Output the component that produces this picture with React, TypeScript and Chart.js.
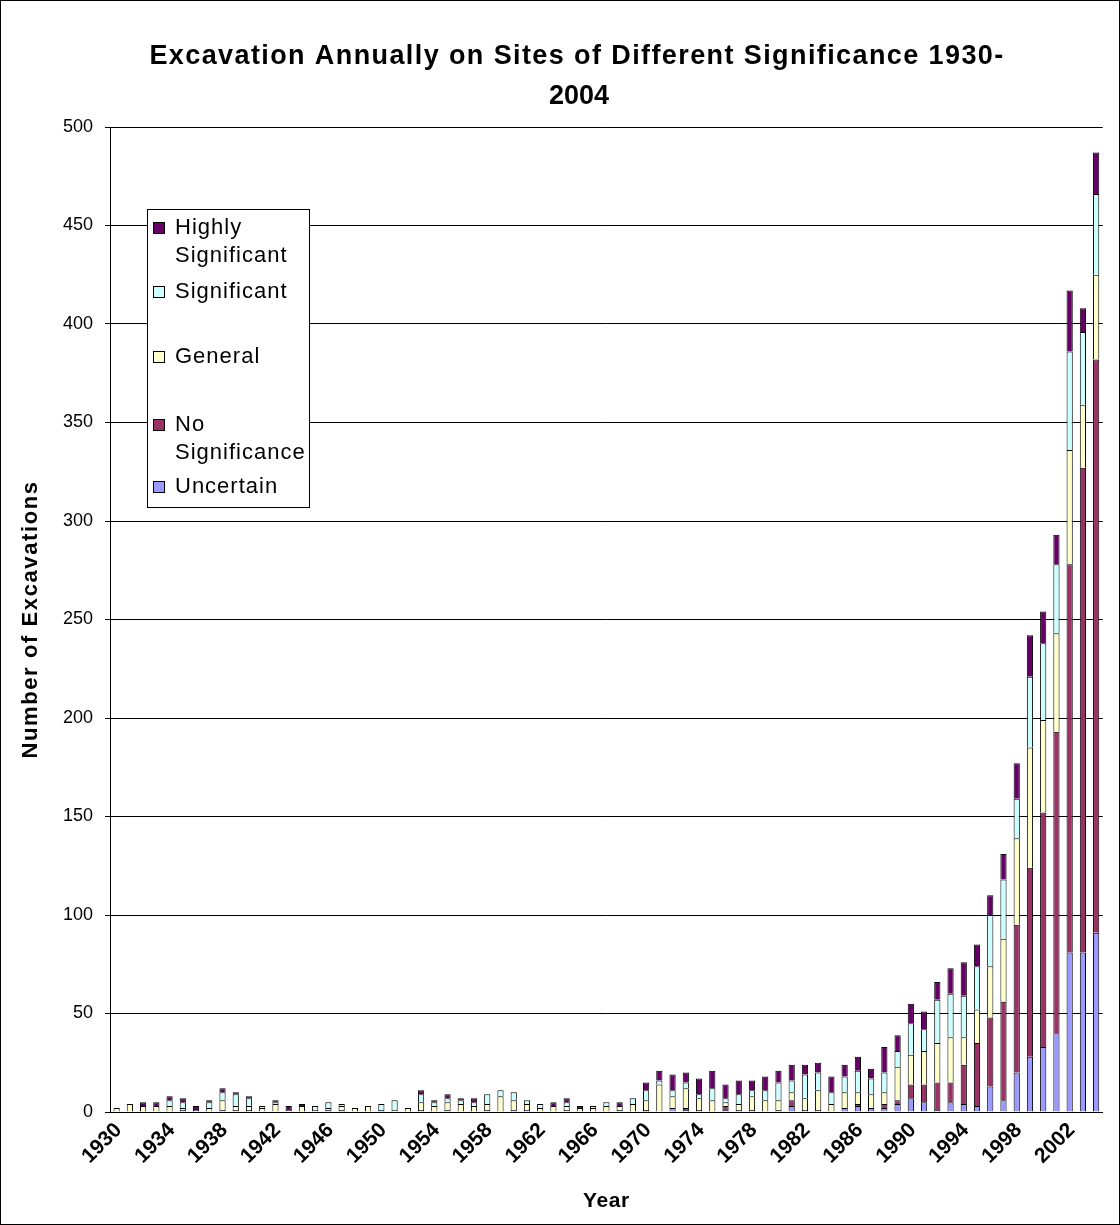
import React, { useEffect, useRef } from "react";
import { Chart, registerables } from "chart.js";

Chart.register(...registerables);

const years = [
  "1930","1931","1932","1933","1934","1935","1936","1937","1938","1939",
  "1940","1941","1942","1943","1944","1945","1946","1947","1948","1949",
  "1950","1951","1952","1953","1954","1955","1956","1957","1958","1959",
  "1960","1961","1962","1963","1964","1965","1966","1967","1968","1969",
  "1970","1971","1972","1973","1974","1975","1976","1977","1978","1979",
  "1980","1981","1982","1983","1984","1985","1986","1987","1988","1989",
  "1990","1991","1992","1993","1994","1995","1996","1997","1998","1999",
  "2000","2001","2002","2003","2004",
];

const shownYearLabels = [
  "1930","1934","1938","1942","1946","1950","1954","1958","1962",
  "1966","1970","1974","1978","1982","1986","1990","1994","1998","2002",
];

const uncertain = [
  0,0,0,0,0,1,0,0,1,1,
  1,0,0,0,0,0,1,1,0,0,
  1,0,0,1,0,1,0,0,1,0,
  1,1,0,0,1,0,0,0,1,0,
  0,0,2,1,1,0,1,1,1,0,
  1,3,1,1,0,2,3,2,2,4,
  7,5,1,5,4,3,13,6,20,28,
  33,40,81,81,91,
];

const noSignificance = [
  0,0,0,0,0,0,0,0,0,0,
  0,0,0,0,0,0,0,0,0,0,
  0,0,0,0,0,0,0,0,0,0,
  0,0,0,0,0,0,0,0,0,0,
  1,0,0,1,0,0,2,0,0,0,
  0,3,0,0,0,0,1,0,2,2,
  7,9,14,10,20,32,35,50,75,96,
  119,153,197,246,291,
];

const general = [
  2,4,3,3,3,1,0,2,5,2,
  2,2,4,1,3,1,1,2,2,3,
  0,1,2,4,3,4,4,3,3,8,
  5,3,2,3,2,2,2,3,2,4,
  5,14,6,10,6,6,2,3,7,6,
  5,4,6,10,4,8,6,7,6,17,
  15,17,20,23,14,17,26,32,44,61,
  47,50,58,32,43,
];

const significant = [
  0,0,0,0,3,3,1,3,4,6,
  4,1,1,0,0,2,3,1,0,0,
  3,5,0,4,2,2,2,2,5,3,
  4,2,2,0,2,0,1,2,0,3,
  5,2,3,3,2,6,2,5,3,5,
  9,6,12,9,6,8,11,8,10,8,
  16,11,22,22,21,22,26,30,20,36,
  39,35,50,37,41,
];

const highlySignificant = [
  0,0,2,2,2,2,2,1,2,1,
  1,0,1,2,1,0,0,0,0,0,
  0,0,0,2,1,2,1,2,0,0,
  0,0,0,2,2,1,0,0,2,0,
  4,5,8,5,8,9,7,7,5,7,
  6,8,5,5,8,6,7,5,13,8,
  10,9,9,13,17,11,10,13,18,21,
  16,15,31,12,21,
];

const seriesNames = ["Uncertain", "No Significance", "General", "Significant", "Highly Significant"];
const seriesColors = ["#9999FF", "#993366", "#FFFFCC", "#CCFFFF", "#660066"];

const titleLines = ["Excavation Annually on Sites of Different Significance 1930-", "2004"];
const yAxisTitle = "Number of Excavations";
const xAxisTitle = "Year";

const FONT = "'Liberation Sans', Arial, Helvetica, sans-serif";

const legendLayout = [
  { idx: 4, lines: ["Highly", "Significant"], y: 228 },
  { idx: 3, lines: ["Significant"], y: 292 },
  { idx: 2, lines: ["General"], y: 357 },
  { idx: 1, lines: ["No", "Significance"], y: 425 },
  { idx: 0, lines: ["Uncertain"], y: 487 },
];

const decorPlugin = {
  id: "excelDecor",
  afterDraw(chart: any) {
    const ctx = chart.ctx;
    const area = chart.chartArea;
    ctx.save();
    ctx.fillStyle = "#000";
    ctx.textBaseline = "middle";

    // main title
    ctx.font = `bold 27px ${FONT}`;
    (ctx as any).letterSpacing = "1.4px";
    ctx.textAlign = "center";
    ctx.fillText(titleLines[0], 577, 57);
    (ctx as any).letterSpacing = "0px";
    ctx.fillText(titleLines[1], 579, 97);

    // axis titles
    ctx.font = `bold 21px ${FONT}`;
    (ctx as any).letterSpacing = "0.6px";
    ctx.fillText(xAxisTitle, (area.left + area.right) / 2, 1201);
    ctx.save();
    ctx.translate(31, (area.top + area.bottom) / 2);
    ctx.rotate(-Math.PI / 2);
    (ctx as any).letterSpacing = "1.6px";
    ctx.font = `bold 22px ${FONT}`;
    ctx.fillText(yAxisTitle, 0, 0);
    ctx.restore();

    // legend
    ctx.fillStyle = "#fff";
    ctx.fillRect(147, 209, 162, 298);
    ctx.strokeStyle = "#000";
    ctx.lineWidth = 1;
    ctx.strokeRect(147.5, 209.5, 162, 298);
    ctx.font = `22px ${FONT}`;
    (ctx as any).letterSpacing = "1px";
    ctx.textAlign = "left";
    for (const item of legendLayout) {
      ctx.fillStyle = seriesColors[item.idx];
      ctx.fillRect(153, item.y - 6, 12, 12);
      ctx.strokeStyle = "#000";
      ctx.strokeRect(153.5, item.y - 5.5, 11, 11);
      ctx.fillStyle = "#000";
      item.lines.forEach((ln, i) => {
        ctx.fillText(ln, 175, item.y + i * 28);
      });
    }
    (ctx as any).letterSpacing = "0px";

    // outer chart border
    ctx.strokeStyle = "#000";
    ctx.strokeRect(0.5, 0.5, chart.width - 1, chart.height - 1);
    ctx.restore();
  },
};

export default function App() {
  const canvasRef = useRef<HTMLCanvasElement | null>(null);

  useEffect(() => {
    document.body.style.margin = "0";
    const canvas = canvasRef.current;
    if (!canvas) return;
    const allSeries = [uncertain, noSignificance, general, significant, highlySignificant];
    const chart = new Chart(canvas, {
      type: "bar",
      data: {
        labels: years,
        datasets: allSeries.map((d, i) => ({
          label: seriesNames[i],
          data: d.map((v) => (v === 0 ? null : v)),
          backgroundColor: seriesColors[i],
          borderColor: "#000",
          borderWidth: { top: 1, left: 1, right: 1, bottom: 0 },
          borderSkipped: false,
          barPercentage: 0.47,
          categoryPercentage: 1,
        })),
      },
      options: {
        responsive: false,
        animation: false,
        devicePixelRatio: 1,
        layout: { padding: { top: 127, left: 0, right: 5, bottom: 0 } },
        plugins: {
          legend: { display: false },
          title: { display: false },
          tooltip: { enabled: false },
        },
        scales: {
          x: {
            stacked: true,
            grid: { display: false, drawTicks: false },
            border: { display: true, color: "#000", width: 1 },
            ticks: {
              autoSkip: false,
              minRotation: 45,
              maxRotation: 45,
              padding: 6,
              labelOffset: 2,
              color: "#000",
              font: { family: FONT, size: 21, weight: "bold" },
              callback: (_v: any, i: number) =>
                shownYearLabels.includes(years[i]) ? years[i] : "",
            },
            afterFit: (s: any) => {
              s.height = 113;
            },
          },
          y: {
            stacked: true,
            min: 0,
            max: 500,
            ticks: {
              stepSize: 50,
              color: "#000",
              padding: 12,
              font: { family: FONT, size: 18 },
            },
            grid: { color: "#000", lineWidth: 1, drawTicks: true, tickLength: 5 },
            border: { display: true, color: "#000", width: 1 },
            afterFit: (s: any) => {
              s.width = 110;
            },
          },
        },
      },
      plugins: [decorPlugin],
    });
    return () => chart.destroy();
  }, []);

  return (
    <div style={{ width: 1120, height: 1225 }}>
      <canvas ref={canvasRef} width={1120} height={1225} style={{ display: "block" }} />
    </div>
  );
}
